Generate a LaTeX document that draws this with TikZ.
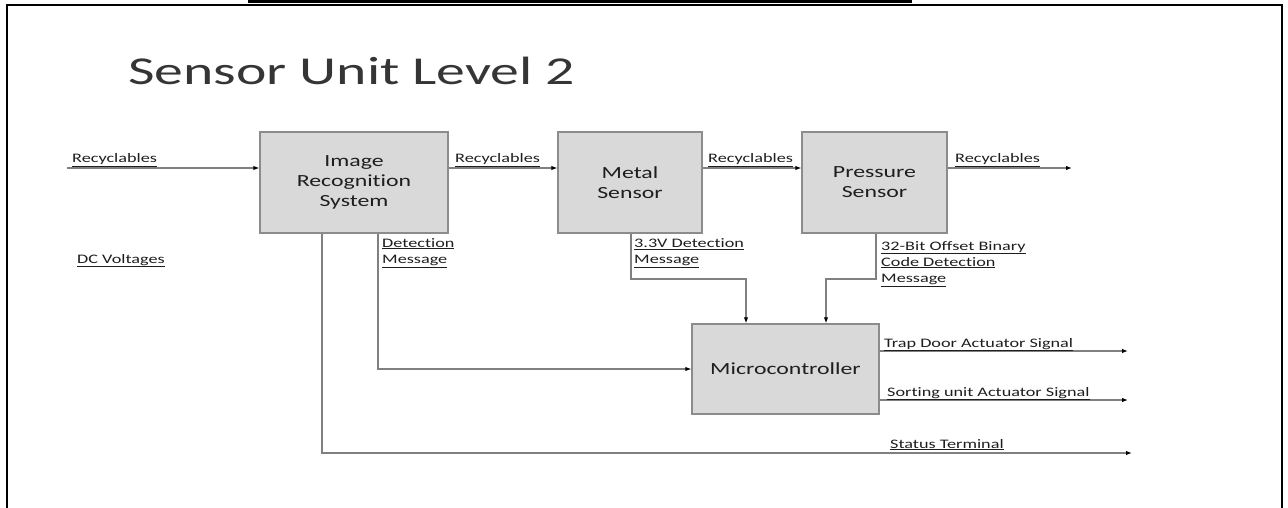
\documentclass[tikz,border=0pt]{standalone}
\usepackage{fontspec}
\setmainfont{Carlito}[FakeStretch=1.4,Ligatures={NoCommon}]
\newfontfamily\titlefont{Carlito}[FakeStretch=1.46,Ligatures={NoCommon}]
\usetikzlibrary{arrows.meta,calc}
\definecolor{boxfill}{HTML}{D9D9D9}
\definecolor{boxline}{HTML}{8C8C8C}
\definecolor{wire}{HTML}{808080}
\definecolor{ink}{HTML}{1E1E1E}

\tikzset{
  block/.style={draw=boxline, fill=boxfill, line width=1.4pt, align=center,
    font=\fontsize{17}{20}\selectfont, text=ink, inner sep=0pt},
  wirearrow/.style={draw=wire, line width=1.1pt,
    -{Latex[length=6pt,width=4.5pt,black]}},
  lbl/.style={anchor=base west, inner sep=0pt,
    font=\fontsize{13}{16}\selectfont, text=ink},
  mlbl/.style={anchor=north west, inner sep=0pt, align=left,
    font=\fontsize{13}{16}\selectfont, text=ink},
}

\begin{document}
\begin{tikzpicture}[x=1pt,y=-1pt]
\useasboundingbox (0,0) rectangle (1288,508);

% slide frame and top bar
\fill[black] (248,0) rectangle (912,3.5);
\draw[black, line width=2pt] (7,508) -- (7,5) -- (1282,5) -- (1282,508);

% title
\node[anchor=base west, inner sep=0pt, text=ink!90,
  font=\titlefont\fontsize{39.5}{46}\selectfont] (title) at (128,85) {Sensor Unit Level 2};

% blocks
\node[block, minimum width=188, minimum height=101] (img) at (354,182.5) {Image\\Recognition\\System};
\node[block, minimum width=144, minimum height=101] (met) at (630,182.5) {Metal\\Sensor};
\node[block, minimum width=145, minimum height=101] (prs) at (874.5,182.5) {Pressure\\Sensor};
\node[block, minimum width=187, minimum height=90] (mcu) at (785.5,369) {Microcontroller};

% routing helpers
\coordinate (row) at (0,168);
\coordinate (inL) at (67,168);
\coordinate (outR) at (1072,168);
\coordinate (detX) at (378,0);
\coordinate (statX) at (322,0);
\coordinate (metX) at (631,0);
\coordinate (prsX) at (876,0);
\coordinate (mcuA) at (746,0);
\coordinate (mcuB) at (826,0);
\coordinate (joinY) at (0,279);
\coordinate (statY) at (0,453);
\coordinate (trapEnd) at (1128,351);
\coordinate (sortEnd) at (1128,400);
\coordinate (statEnd) at (1132,453);

% material flow
\draw[wirearrow] (inL) -- (inL -| img.west);
\draw[wirearrow] (img.east |- row) -- (met.west |- row);
\draw[wirearrow] (met.east |- row) -- (prs.west |- row);
\draw[wirearrow] (prs.east |- row) -- (outR);

% signals
\draw[wirearrow] (img.south -| detX) -- (detX |- mcu.west) -- (mcu.west);
\draw[wirearrow] (met.south -| metX) -- (metX |- joinY) -- (mcuA |- joinY) -- (mcuA |- mcu.north);
\draw[wirearrow] (prs.south -| prsX) -- (prsX |- joinY) -- (mcuB |- joinY) -- (mcuB |- mcu.north);
\draw[wirearrow] (img.south -| statX) -- (statX |- statY) -- (statEnd);
\draw[wirearrow] (mcu.east |- trapEnd) -- (trapEnd);
\draw[wirearrow] (mcu.east |- sortEnd) -- (sortEnd);

% labels
\node[lbl] (rin) at (72,163) {\underline{Recyclables}};
\node[lbl] (r1) at (455,163) {\underline{Recyclables}};
\node[lbl] (r2) at (708,163) {\underline{Recyclables}};
\node[lbl] (r3) at (955,163) {\underline{Recyclables}};
\node[lbl] (dcv) at (77,263) {\underline{DC Voltages}};
\node[mlbl] (detmsg) at (382,235.8) {\strut\underline{Detection}\\\underline{Message}};
\node[mlbl] (metmsg) at (634,235.8) {\strut\underline{3.3V Detection}\\\underline{Message}};
\node[mlbl] (prsmsg) at (881,238.8) {\strut\underline{32-Bit Offset Binary}\\\underline{Code Detection}\\\underline{Message}};
\node[lbl] (trap) at (884,347) {\underline{Trap Door Actuator Signal}};
\node[lbl] (sort) at (887,396) {\underline{Sorting unit Actuator Signal}};
\node[lbl] (stat) at (890,448) {\underline{Status Terminal}};
\end{tikzpicture}
\end{document}
